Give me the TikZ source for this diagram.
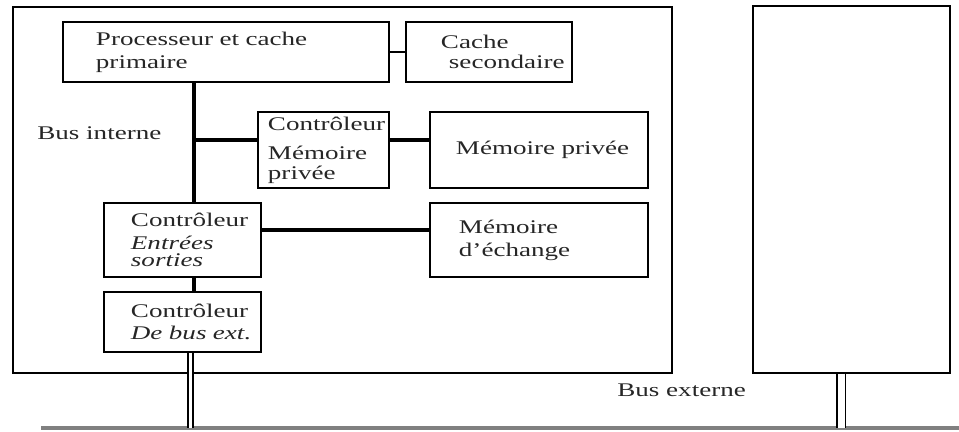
\documentclass[tikz,border=0pt]{standalone}
\usepackage{fontspec}
\setmainfont{Liberation Serif}[FakeStretch=1.4]
\usetikzlibrary{calc}

\begin{document}
\begin{tikzpicture}[x=0.02cm, y=-0.02cm,
  font=\fontsize{11}{13}\selectfont,
  frame/.style={draw, line width=1.1pt, anchor=north west, inner sep=0pt},
  box/.style={draw, line width=1.1pt, anchor=north west, align=left, inner ysep=0pt, text=black!85},
  thin/.style={line width=0.7pt},
  bus/.style={line width=2.8pt},
  link/.style={line width=2.2pt},
  twin/.style={double, line width=0.8pt, double distance=#1},
  extbus/.style={line width=2.4pt, draw=black!50}]
  \useasboundingbox (0,0) rectangle (959,432);

  % Draw the two stations
  \node[frame, minimum width=13.18cm, minimum height=7.32cm] (station) at (12,6) {};
  \node[frame, minimum width=3.94cm, minimum height=7.34cm] (other) at (752,5) {};

  % Boxes inside the station
  \node[box, minimum width=6.52cm, minimum height=1.2cm, inner xsep=0.66cm, text width=5.2cm] (proc) at (62,21)
    {\mbox{Processeur et cache}\\primaire};
  \node[box, minimum width=3.32cm, minimum height=1.2cm, inner xsep=0.7cm, text width=1.92cm] (cache) at (405,21)
    {Cache\\[-2pt]\hspace*{0.16cm}\mbox{secondaire}};
  \node[box, minimum width=2.62cm, minimum height=1.52cm, inner xsep=0.2cm, text width=2.22cm] (ctrlmp) at (257,111)
    {\mbox{Contrôleur}\\[4pt]Mémoire\\[-2pt]privée};
  \node[box, minimum width=4.36cm, minimum height=1.52cm, inner xsep=0.52cm, text width=3.32cm] (memp) at (429,111)
    {\mbox{Mémoire privée}};
  \node[box, minimum width=3.14cm, minimum height=1.48cm, inner xsep=0.54cm, text width=2.06cm] (ctrles) at (103,202)
    {\mbox{Contrôleur}\\\textit{Entrées}\\[-3pt]\textit{sorties}};
  \node[box, minimum width=4.36cm, minimum height=1.48cm, inner xsep=0.58cm, text width=3.2cm] (memech) at (429,202)
    {Mémoire\\\mbox{d’échange}};
  \node[box, minimum width=3.14cm, minimum height=1.2cm, inner xsep=0.54cm, text width=2.06cm] (ctrlbus) at (103,291)
    {\mbox{Contrôleur}\\\mbox{\textit{De bus ext.}}};

  % Labels of the buses
  \node[anchor=west, inner sep=0pt, text=black!85] (lblint) at (37,133) {Bus interne};
  \node[anchor=west, inner sep=0pt, text=black!85] (lblext) at (617,390) {Bus externe};

  % Internal bus
  \coordinate (bi) at (194,140);
  \coordinate (es) at (0,230);
  \draw[thin] (proc.east) -- (cache.west);
  \draw[bus] (proc.south -| bi) -- (ctrles.north -| bi);
  \draw[bus] (bi) -- (bi -| ctrlmp.west);
  \draw[link] (bi -| ctrlmp.east) -- (bi -| memp.west);
  \draw[link] (es -| ctrles.east) -- (es -| memech.west);
  \draw[bus] (ctrles.south -| bi) -- (ctrlbus.north -| bi);

  % External bus
  \coordinate (busL) at (41,428);
  \coordinate (busR) at (959,428);
  \coordinate (t1) at (190.5,428);
  \coordinate (t2) at (841,428);
  \draw[extbus] (busL) -- (busR);
  \draw[twin=0.07cm] (t1 |- ctrlbus.south) -- (t1);
  \draw[twin=0.14cm] (t2 |- other.south) -- (t2);

\end{tikzpicture}
\end{document}
